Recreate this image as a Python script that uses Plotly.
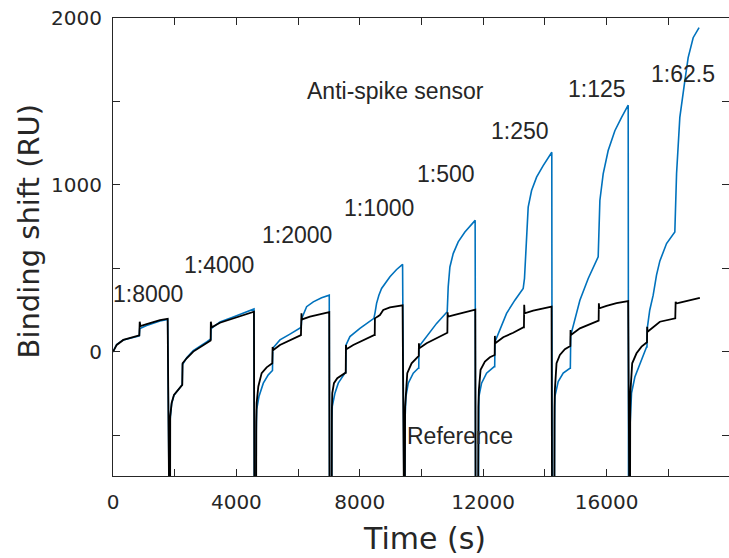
import plotly.graph_objects as go

# ---------------- data (time in s, binding shift in RU) ----------------
BOTTOM = -1500  # regeneration dips go far below the visible range

# Anti-spike sensor (blue)
blue_c1_t = [0, 119, 335, 605, 853, 866, 875, 1091, 1307, 1523, 1772, 1785]
blue_c1_v = [0, 45, 72, 86, 96, 140, 141, 158, 172, 185, 195, BOTTOM]
blue_c2_t = [1847, 1855, 1901, 1977, 2117, 2236, 2245, 2255, 2388, 2603, 2820, 3036, 3165, 3172, 3180, 3468, 3900, 4333, 4570, 4590]
blue_c2_v = [BOTTOM, -400, -310, -260, -225, -200, -197, -75, -35, 8, 32, 60, 77, 77, 140, 180, 210, 238, 257, BOTTOM]
blue_c3_t = [4635, 4645, 4657, 4732, 4873, 5034, 5164, 5170, 5180, 5412, 5737, 6093, 6105, 6118, 6277, 6493, 6763, 7011, 7025]
blue_c3_v = [BOTTOM, -480, -346, -267, -187, -137, -111, -111, 22, 72, 107, 147, 160, 200, 271, 300, 324, 340, BOTTOM]
blue_c4_t = [7087, 7095, 7109, 7195, 7303, 7519, 7545, 7555, 7681, 8005, 8459, 8500, 8545, 8620, 8707, 8978, 9194, 9388, 9405]
blue_c4_v = [BOTTOM, -420, -326, -247, -187, -127, -125, 42, 92, 141, 201, 240, 291, 340, 380, 450, 494, 525, BOTTOM]
blue_c5_t = [9454, 9465, 9496, 9572, 9734, 9896, 9912, 9920, 10166, 10491, 10835, 10867, 10922, 11029, 11191, 11408, 11740, 11760]
blue_c5_v = [BOTTOM, -420, -267, -187, -127, -98, -98, 32, 92, 171, 241, 390, 509, 589, 659, 718, 788, BOTTOM]
blue_c6_t = [11830, 11845, 11862, 11949, 12110, 12359, 12374, 12385, 12543, 12759, 13028, 13298, 13340, 13427, 13460, 13570, 13732, 13946, 14225, 14240]
blue_c6_v = [BOTTOM, -420, -267, -187, -127, -88, -88, 62, 131, 231, 310, 380, 440, 808, 867, 967, 1047, 1116, 1196, BOTTOM]
blue_c7_t = [14303, 14315, 14325, 14433, 14595, 14811, 14826, 14840, 14918, 15000, 15136, 15406, 15696, 15729, 15784, 15891, 16053, 16270, 16487, 16702, 16715]
blue_c7_v = [BOTTOM, -420, -267, -177, -127, -98, -98, 100, 151, 215, 310, 440, 559, 569, 907, 1067, 1206, 1325, 1405, 1478, BOTTOM]
blue_c8_t = [16756, 16768, 16810, 16918, 17080, 17297, 17311, 17320, 17400, 17512, 17620, 17729, 17945, 18182, 18214, 18270, 18320, 18376, 18538, 18646, 18808, 19000]
blue_c8_v = [BOTTOM, -420, -247, -150, -70, 30, 30, 141, 250, 340, 460, 545, 649, 715, 718, 1067, 1250, 1405, 1624, 1763, 1882, 1942]

# Reference (black)
black_c1_t = [0, 119, 335, 605, 853, 866, 872, 890, 1091, 1307, 1523, 1772, 1785]
black_c1_v = [0, 42, 72, 88, 100, 181, 160, 155, 167, 181, 191, 199, BOTTOM]
black_c2_t = [1847, 1855, 1901, 1977, 2117, 2236, 2245, 2255, 2388, 2603, 2820, 3036, 3165, 3172, 3180, 3200, 3468, 3900, 4333, 4570, 4590]
black_c2_v = [BOTTOM, -386, -306, -257, -223, -197, -197, -68, -38, 2, 26, 52, 68, 181, 150, 147, 175, 201, 227, 241, BOTTOM]
black_c3_t = [4635, 4645, 4657, 4711, 4819, 4981, 5164, 5175, 5182, 5200, 5412, 5737, 6093, 6110, 6118, 6135, 6385, 6709, 7011, 7025]
black_c3_v = [BOTTOM, -420, -306, -207, -127, -92, -68, 30, 12, 12, 42, 72, 101, 231, 191, 195, 211, 227, 239, BOTTOM]
black_c4_t = [7087, 7095, 7109, 7163, 7271, 7519, 7545, 7552, 7565, 7789, 8113, 8459, 8485, 8491, 8560, 8653, 8761, 8977, 9388, 9405]
black_c4_v = [BOTTOM, -350, -247, -187, -157, -127, -125, 42, 16, 42, 72, 101, 101, 201, 210, 221, 251, 267, 279, BOTTOM]
black_c5_t = [9454, 9470, 9496, 9540, 9680, 9896, 9912, 9918, 9930, 10166, 10491, 10815, 10840, 10847, 10860, 11139, 11463, 11745, 11760]
black_c5_v = [BOTTOM, -330, -227, -127, -68, -24, -24, 52, 22, 52, 82, 115, 115, 237, 211, 225, 241, 253, BOTTOM]
black_c6_t = [11830, 11845, 11862, 11916, 12057, 12218, 12359, 12374, 12380, 12392, 12650, 12974, 13298, 13322, 13331, 13345, 13622, 13946, 14218, 14240]
black_c6_v = [BOTTOM, -330, -227, -107, -58, -32, -18, -18, 96, 52, 88, 115, 147, 147, 283, 231, 247, 261, 271, BOTTOM]
black_c7_t = [14303, 14315, 14325, 14379, 14487, 14649, 14811, 14826, 14833, 14845, 15136, 15460, 15729, 15744, 15751, 15765, 16000, 16324, 16702, 16715]
black_c7_v = [BOTTOM, -330, -227, -68, -18, 16, 36, 36, 131, 101, 141, 165, 188, 188, 291, 261, 276, 292, 305, BOTTOM]
black_c8_t = [16756, 16768, 16778, 16832, 16972, 17135, 17297, 17311, 17318, 17330, 17729, 18214, 18228, 18240, 18260, 18376, 18700, 19025]
black_c8_v = [BOTTOM, -330, -227, -68, -8, 32, 58, 58, 151, 121, 181, 201, 201, 300, 290, 295, 310, 324]

blue_t = (blue_c1_t + blue_c2_t + blue_c3_t + blue_c4_t + blue_c5_t + blue_c6_t + blue_c7_t + blue_c8_t)
blue_v = (blue_c1_v + blue_c2_v + blue_c3_v + blue_c4_v + blue_c5_v + blue_c6_v + blue_c7_v + blue_c8_v)
black_t = (black_c1_t + black_c2_t + black_c3_t + black_c4_t + black_c5_t + black_c6_t + black_c7_t + black_c8_t)
black_v = (black_c1_v + black_c2_v + black_c3_v + black_c4_v + black_c5_v + black_c6_v + black_c7_v + black_c8_v)

x_tickvals = [0, 2000, 4000, 6000, 8000, 10000, 12000, 14000, 16000, 18000]
x_ticktext = ["0", "", "4000", "", "8000", "", "12000", "", "16000", ""]
y_tickvals = [-500, 0, 500, 1000, 1500, 2000]
y_ticktext = ["", "0", "", "1000", "", "2000"]

dilution_labels = ["1:8000", "1:4000", "1:2000", "1:1000", "1:500", "1:250", "1:125", "1:62.5"]
# label centers in pixels
label_px = [(148, 294), (219, 265), (297, 235), (379, 208), (446, 174), (520, 131), (597, 89), (683, 74)]

# ---------------- figure ----------------
W, H = 729, 558
L, R, T, B = 113, 0, 18, 82
PW, PH = W - L - R, H - T - B

def px2paper(px, py):
    return (px - L) / PW, (H - B - py) / PH

AX = "#262626"
fig = go.Figure()
fig.add_trace(go.Scatter(x=blue_t, y=blue_v, mode="lines", line=dict(color="#0072BD", width=1.6),
                         name="Anti-spike sensor", hoverinfo="skip"))
fig.add_trace(go.Scatter(x=black_t, y=black_v, mode="lines", line=dict(color="#000000", width=1.8),
                         name="Reference", hoverinfo="skip"))
fig.add_trace(go.Scatter(x=[], y=[], yaxis="y2", showlegend=False))

annotations = []
for txt, (px, py) in zip(dilution_labels, label_px):
    xp, yp = px2paper(px, py)
    annotations.append(dict(text=txt, x=xp, y=yp, xref="paper", yref="paper", showarrow=False,
                            xanchor="center", yanchor="middle",
                            font=dict(family="Liberation Sans, Arial", size=23, color=AX)))
for txt, (px, py) in [("Anti-spike sensor", (395, 91)), ("Reference", (460, 436))]:
    xp, yp = px2paper(px, py)
    annotations.append(dict(text=txt, x=xp, y=yp, xref="paper", yref="paper", showarrow=False,
                            xanchor="center", yanchor="middle",
                            font=dict(family="Liberation Sans, Arial", size=23, color=AX)))
# axis titles
xp, yp = px2paper(28.5, 231)
annotations.append(dict(text="Binding shift (RU)", x=xp, y=yp, xref="paper", yref="paper", showarrow=False,
                        textangle=-90, xanchor="center", yanchor="middle",
                        font=dict(family="DejaVu Sans", size=29, color=AX)))
xp, yp = px2paper(424, 538)
annotations.append(dict(text="Time (s)", x=xp, y=yp, xref="paper", yref="paper", showarrow=False,
                        xanchor="center", yanchor="middle",
                        font=dict(family="DejaVu Sans", size=30, color=AX)))

fig.update_layout(
    width=W, height=H,
    margin=dict(l=L, r=R, t=T, b=B, pad=0),
    paper_bgcolor="white", plot_bgcolor="white",
    showlegend=False,
    annotations=annotations,
    xaxis=dict(range=[0, 19970], tickmode="array", tickvals=x_tickvals, ticktext=x_ticktext,
               ticks="inside", ticklen=7, tickwidth=1, tickcolor=AX,
               showline=True, linecolor=AX, linewidth=1, mirror="ticks",
               showgrid=False, zeroline=False, ticklabelstandoff=8, automargin=False,
               tickfont=dict(family="DejaVu Sans", size=20, color=AX)),
    yaxis=dict(range=[-743, 2000], tickmode="array", tickvals=y_tickvals, ticktext=y_ticktext,
               ticks="inside", ticklen=7, tickwidth=1, tickcolor=AX,
               showline=True, linecolor=AX, linewidth=1,
               showgrid=False, zeroline=False, ticklabelstandoff=6, automargin=False,
               tickfont=dict(family="DejaVu Sans", size=20, color=AX)),
    yaxis2=dict(range=[-743, 2000], overlaying="y", side="right", tickmode="array",
                tickvals=y_tickvals, ticks="inside", ticklen=7, tickwidth=1, tickcolor=AX,
                showticklabels=False, showline=False, showgrid=False, zeroline=False,
                automargin=False),
)

fig.write_html("out.html", config={"displayModeBar": False},
               post_script="document.body.style.margin='0px';document.body.style.overflow='hidden';")
